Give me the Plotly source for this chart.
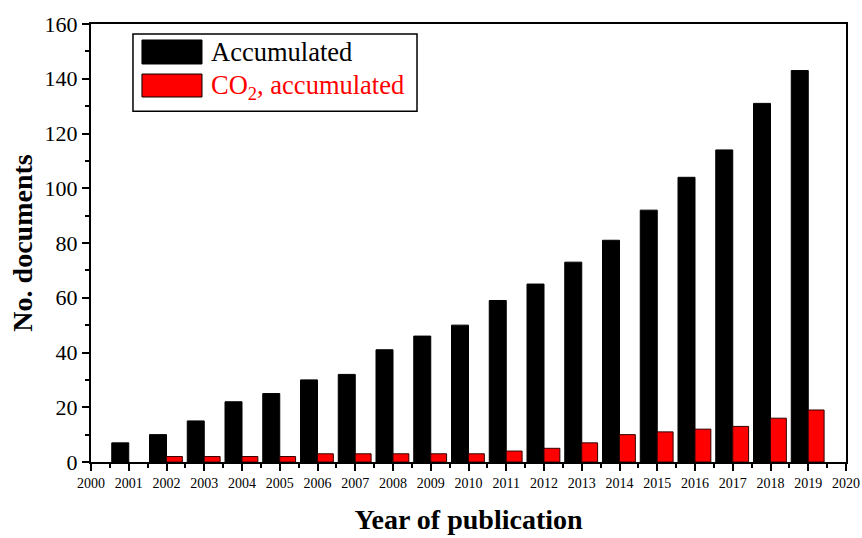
import plotly.graph_objects as go

# Datos
anios = list(range(2001, 2020))
acumulado = [7, 10, 15, 22, 25, 30, 32, 41, 46, 50, 59, 65, 73, 81, 92, 104, 114, 131, 143]
co2_acumulado = [0, 2, 2, 2, 2, 3, 3, 3, 3, 3, 4, 5, 7, 10, 11, 12, 13, 16, 19]

fuente = 'Liberation Serif'

traza_total = go.Bar(
    x=anios, y=acumulado,
    offset=-0.45, width=0.45,
    marker=dict(color='black', line=dict(color='black', width=1)),
    name='Accumulated', showlegend=False,
)

traza_co2 = go.Bar(
    x=anios, y=co2_acumulado,
    offset=0.0, width=0.42,
    marker=dict(color='#ff0000',
                line=dict(color='#330000', width=[0 if v == 0 else 1 for v in co2_acumulado])),
    name='CO2, accumulated', showlegend=False,
)

fig = go.Figure(data=[traza_total, traza_co2])

# Leyenda dibujada a mano (cuadros grandes como en el original)
shapes = [
    dict(type='rect', xref='paper', yref='paper', x0=0.0556, x1=0.4318, y0=0.801, y1=0.977,
         line=dict(color='black', width=1.5), fillcolor='white', layer='above'),
    dict(type='rect', xref='paper', yref='paper', x0=0.0675, x1=0.147, y0=0.9087, y1=0.9635,
         line=dict(color='black', width=1), fillcolor='black', layer='above'),
    dict(type='rect', xref='paper', yref='paper', x0=0.0675, x1=0.147, y0=0.8333, y1=0.8858,
         line=dict(color='black', width=1), fillcolor='#ff0000', layer='above'),
]
annotations = [
    dict(text='Accumulated', xref='paper', yref='paper', x=0.1563, y=0.936,
         xanchor='left', yanchor='middle', showarrow=False,
         font=dict(family=fuente, size=26.5, color='black')),
    dict(text='CO<sub>2</sub>, accumulated', xref='paper', yref='paper', x=0.1563, y=0.856,
         xanchor='left', yanchor='middle', showarrow=False,
         font=dict(family=fuente, size=26.5, color='#ff0000')),
]

fig.update_layout(
    width=862, height=538,
    margin=dict(l=91, r=16, t=24, b=76, autoexpand=False),
    paper_bgcolor='white',
    plot_bgcolor='white',
    font=dict(family=fuente, size=14, color='black'),
    barmode='overlay',
    shapes=shapes,
    annotations=annotations,
)

fig.update_xaxes(
    range=[2000, 2020], dtick=1, tick0=2000,
    ticks='outside', ticklen=7, tickwidth=1.5, tickcolor='black',
    minor=dict(dtick=0.5, ticks='outside', ticklen=4, tickwidth=1.5, tickcolor='black'),
    tickfont=dict(family=fuente, size=14),
    showgrid=False, zeroline=False, automargin=False,
    showline=True, linecolor='black', linewidth=2, mirror=True,
    title=dict(text='<b>Year of publication</b>', font=dict(family=fuente, size=28), standoff=20),
)

fig.update_yaxes(
    range=[0, 160], dtick=20,
    ticks='outside', ticklen=7, tickwidth=1.5, tickcolor='black',
    minor=dict(dtick=10, ticks='outside', ticklen=4, tickwidth=1.5, tickcolor='black'),
    tickfont=dict(family=fuente, size=22),
    showgrid=False, zeroline=False, automargin=False,
    showline=True, linecolor='black', linewidth=2, mirror=True,
    title=dict(text='<b>No. documents</b>', font=dict(family=fuente, size=28), standoff=4),
)

# quitar el margen por defecto del body para que la figura ocupe la ventana entera
fig.write_html("out.html", config={'displayModeBar': False},
               post_script="document.body.style.margin='0';")
